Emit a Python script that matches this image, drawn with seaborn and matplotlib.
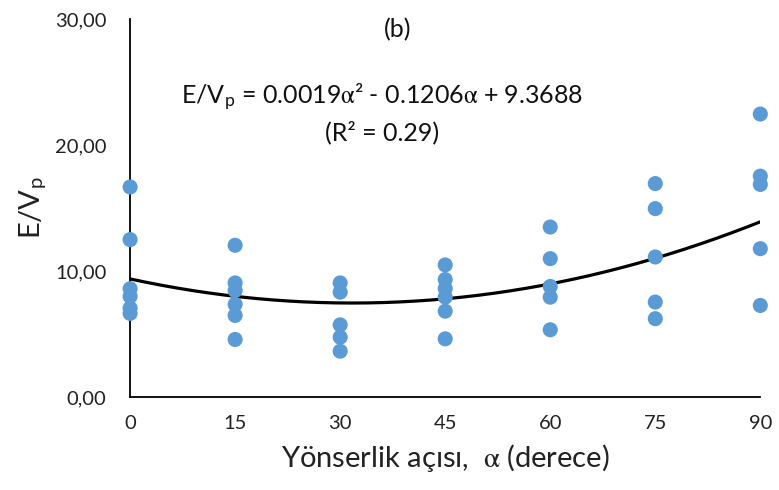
import numpy as np
import pandas as pd
import matplotlib
matplotlib.use("Agg")
import matplotlib.pyplot as plt
import seaborn as sns
from matplotlib.ticker import FuncFormatter

# Measured E/Vp values grouped by orientation angle (degrees)
angle_0 = [16.67, 12.49, 8.59, 7.98, 7.05, 6.63]
angle_15 = [12.04, 9.05, 8.45, 7.35, 6.47, 4.56]
angle_30 = [9.05, 8.32, 5.72, 4.74, 3.63]
angle_45 = [10.48, 9.32, 8.60, 7.92, 6.81, 4.61]
angle_60 = [13.49, 10.98, 8.77, 7.92, 5.33]
angle_75 = [16.94, 14.95, 11.11, 7.53, 6.21]
angle_90 = [22.46, 17.53, 16.87, 11.77, 7.26]

angles = [0, 15, 30, 45, 60, 75, 90]
groups = [angle_0, angle_15, angle_30, angle_45, angle_60, angle_75, angle_90]

# Quadratic regression coefficients: E/Vp = a*alpha^2 + b*alpha + c
coef_a, coef_b, coef_c = 0.0019, -0.1206, 9.3688
r_squared = 0.29

df = pd.DataFrame(
    [(ang, v) for ang, vals in zip(angles, groups) for v in vals],
    columns=["alpha", "ev"],
)
fit_x = np.linspace(0, 90, 200)
fit = pd.DataFrame({"alpha": fit_x, "ev": coef_a * fit_x**2 + coef_b * fit_x + coef_c})

sns.set_style("white")
plt.rcParams["font.family"] = ["Lato", "DejaVu Sans"]
# Greek letters from a serif math face
plt.rcParams["mathtext.fontset"] = "stix"

ALPHA = "$\\mathrm{\\alpha}$"

fig = plt.figure(figsize=(7.79, 4.9), dpi=100)
ax = fig.add_axes([0.167, 0.190, 0.809, 0.771])

sns.scatterplot(data=df, x="alpha", y="ev", ax=ax, s=118, color="#5B9BD5",
                edgecolor="none", zorder=3, clip_on=False)
sns.lineplot(data=fit, x="alpha", y="ev", ax=ax, color="black", linewidth=2.3, zorder=2)

ax.set_xlim(0, 90)
ax.set_ylim(0, 30)
ax.set_xticks(angles)
ax.set_yticks([0, 10, 20, 30])
ax.yaxis.set_major_formatter(FuncFormatter(lambda v, p: f"{v:.2f}".replace(".", ",")))

for side in ["top", "right"]:
    ax.spines[side].set_visible(False)
for side in ["left", "bottom"]:
    ax.spines[side].set_color("black")
    ax.spines[side].set_linewidth(1.3)

ax.tick_params(axis="both", direction="out", length=6, width=1.3, color="black",
               labelsize=14.5, labelcolor="#222222")
ax.tick_params(axis="y", pad=11)
ax.tick_params(axis="x", pad=7)

ax.set_xlabel(f"Yönserlik açısı,  {ALPHA} (derece)", fontsize=21, color="#222222", labelpad=7)
ax.set_ylabel("E/V$_\\mathregular{p}$", fontsize=21, color="#222222", labelpad=4)

ax.text(0.425, 0.972, "(b)", transform=ax.transAxes, ha="center", va="center",
        fontsize=18, color="#111111")
ax.text(0.40, 0.795,
        f"E/V$_\\mathregular{{p}}$ = {coef_a}{ALPHA}² - {abs(coef_b)}{ALPHA} + {coef_c}",
        transform=ax.transAxes, ha="center", va="center", fontsize=18, color="#111111")
ax.text(0.40, 0.70, f"(R² = {r_squared})", transform=ax.transAxes,
        ha="center", va="center", fontsize=18, color="#111111")

fig.savefig("out.png", dpi=100)
